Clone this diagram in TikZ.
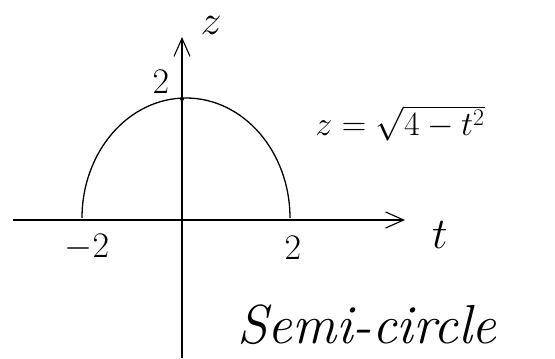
\RequirePackage{fix-cm}
\documentclass[tikz,border=0pt]{standalone}
\usetikzlibrary{arrows.meta}
\begin{document}
\begin{tikzpicture}[x=1pt,y=1pt,
  axis/.style={line width=1.1pt,-{Straight Barb[length=18pt,width=16pt,line width=1.1pt]}},
  curve/.style={line width=1.3pt},
  lbl/.style={inner sep=0pt,font=\fontsize{36}{42}\selectfont}
]
\useasboundingbox (0,0) rectangle (555,-359);
\coordinate (tstart) at (13,-220);
\coordinate (tend) at (405,-220);
\coordinate (zstart) at (182,-358);
\coordinate (zend) at (182,-37);
\draw[axis] (tstart) -- (tend);
\draw[axis] (zstart) -- (zend);
\coordinate (left) at (82,-218);
\draw[curve] (left) arc[start angle=180,end angle=0,x radius=104,y radius=120];
\fill (182,-99) circle (2);
\node[lbl,font=\fontsize{42}{48}\selectfont] (zl) at (211,-25) {$z$};
\node[lbl] (ztwo) at (161,-82) {$2$};
\node[lbl] (mtwo) at (87,-247) {$-2$};
\node[lbl] (ptwo) at (293,-248) {$2$};
\node[lbl,font=\fontsize{44}{50}\selectfont] (tl) at (440,-235) {$t$};
\node[lbl,font=\fontsize{34}{40}\selectfont] (formula) at (400,-123) {$z=\sqrt{4-t^2}$};
\node[lbl,font=\fontsize{55}{62}\selectfont\itshape] (semi) at (367,-325) {Semi-circle};
\end{tikzpicture}
\end{document}
